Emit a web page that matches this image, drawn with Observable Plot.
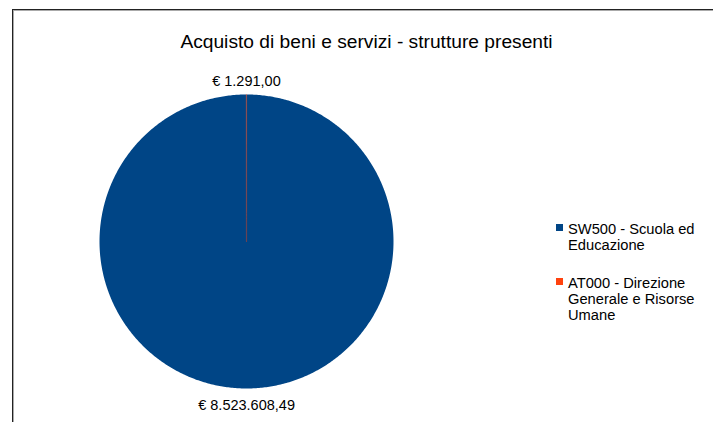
<!DOCTYPE html>
<html><head><meta charset="utf-8">
<script src="https://cdn.jsdelivr.net/npm/d3@7"></script>
<script src="https://cdn.jsdelivr.net/npm/@observablehq/plot@0.6"></script>
<style>
html,body{margin:0;padding:0;background:#fff;}
#wrap{position:relative;width:713px;height:422px;overflow:hidden;font-family:"Liberation Sans",Arial,sans-serif;color:#000;}
#frame{position:absolute;left:12px;top:9px;width:720px;height:430px;border-top:1px solid #222;border-left:1px solid #222;}
#frame2{position:absolute;left:13px;top:10px;width:720px;height:430px;border-top:1px solid #aaa;border-left:1px solid #aaa;}
#title{position:absolute;left:20px;width:693px;top:31px;text-align:center;font-size:19.2px;line-height:22px;}
#legend{position:absolute;left:554px;top:221px;font-size:14.7px;line-height:16px;}
.item{position:relative;padding-left:14px;width:140px;margin-bottom:22px;}
.sw{position:absolute;left:2px;top:3px;width:7px;height:7px;}
#chart{position:absolute;left:0;top:0;}
</style></head><body>
<div id="wrap"><div id="frame"></div><div id="frame2"></div><div id="chart"></div><div id="title"></div><div id="legend"></div></div>
<script>
const title = "Acquisto di beni e servizi - strutture presenti";
const categories = ["SW500 - Scuola ed Educazione", "AT000 - Direzione Generale e Risorse Umane"];
const values = [8523608.49, 1291.00];
const valueLabels = ["€ 8.523.608,49", "€ 1.291,00"];
const colors = ["#004586", "#ff420e"];

const W = 713, H = 422, cx = 246, cy = 241, R = 147;

const arcs = d3.pie().sort(null).value(d => d)(values);
const slices = arcs.map((a, i) => {
  const n = Math.max(2, Math.ceil((a.endAngle - a.startAngle) / 0.01));
  const pts = [{x: 0, y: 0}];
  for (let k = 0; k <= n; k++) {
    const t = a.startAngle + (a.endAngle - a.startAngle) * k / n;
    pts.push({x: Math.sin(t), y: Math.cos(t)});
  }
  pts.push({x: 0, y: 0});
  return pts;
});
const labelData = arcs.map((a, i) => {
  const m = (a.startAngle + a.endAngle) / 2;
  const off = (15 - 2 * Math.cos(m)) / R;
  return {x: (1 + off) * Math.sin(m), y: (1 + off) * Math.cos(m), label: valueLabels[i]};
});

const marks = slices.map((pts, i) => Plot.line(pts, {
  x: "x", y: "y", curve: "linear",
  fill: colors[i],
  stroke: i === 1 ? colors[i] : "none",
  strokeWidth: 1.2, strokeOpacity: 0.4
}));
marks.push(Plot.text(labelData, {x: "x", y: "y", text: "label", fontSize: 14.5, fill: "#000", textAnchor: "middle", lineAnchor: "middle"}));

const plot = Plot.plot({
  width: W, height: H,
  margin: 0,
  style: {background: "transparent", fontFamily: "Liberation Sans, Arial, sans-serif"},
  x: {domain: [-1, 1], range: [cx - R, cx + R], axis: null},
  y: {domain: [-1, 1], range: [cy + R, cy - R], axis: null},
  marks
});
document.getElementById("chart").appendChild(plot);
document.getElementById("title").textContent = title;

const legend = document.getElementById("legend");
categories.forEach((c, i) => {
  const it = document.createElement("div");
  it.className = "item";
  const sw = document.createElement("span");
  sw.className = "sw";
  sw.style.background = colors[i];
  it.appendChild(sw);
  it.appendChild(document.createTextNode(c));
  legend.appendChild(it);
});
</script>
</body></html>
